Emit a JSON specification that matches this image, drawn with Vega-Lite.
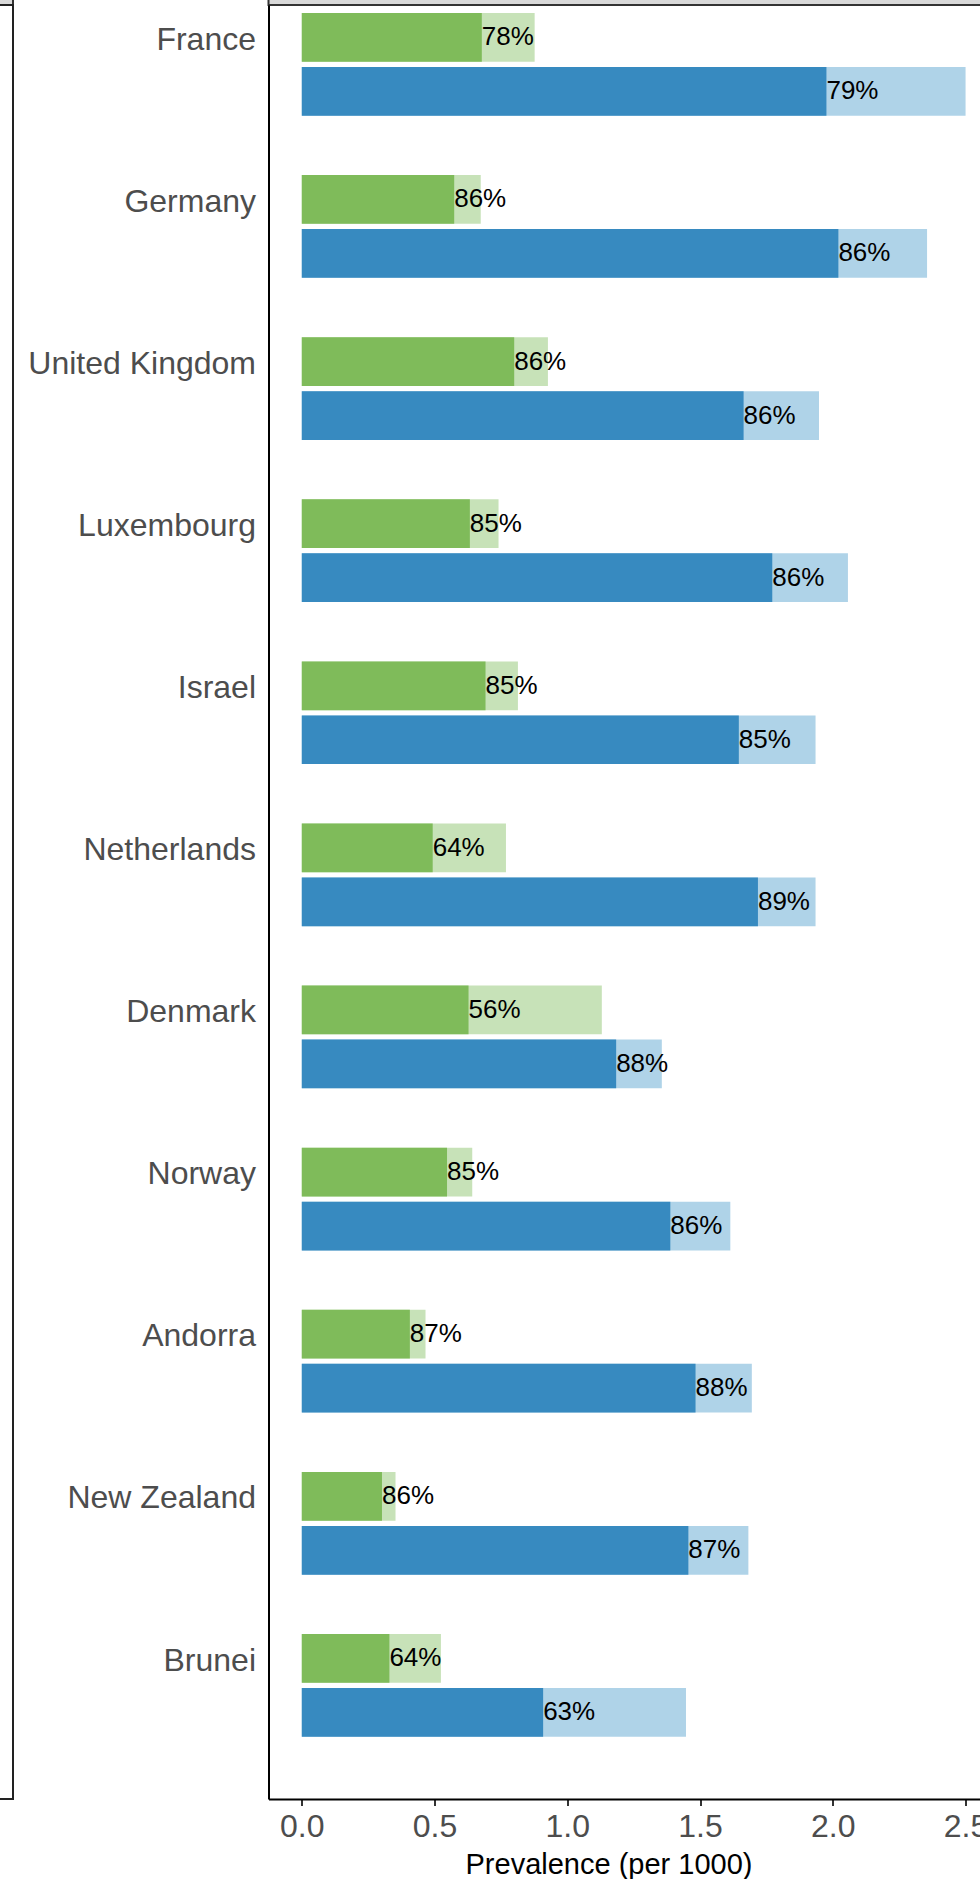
{
  "$schema": "https://vega.github.io/schema/vega-lite/v6.json",
  "padding": {"left": -188, "top": -26, "right": 0, "bottom": 0},
  "config": {
    "font": "Liberation Sans",
    "view": {"stroke": null},
    "axis": {"labelFont": "Liberation Sans", "titleFont": "Liberation Sans"}
  },
  "datasets": {
    "prev": [
      {"country": "France", "group": "A", "treated": 0.678, "total": 0.877, "pct": "78%"},
      {"country": "France", "group": "B", "treated": 1.976, "total": 2.5, "pct": "79%"},
      {"country": "Germany", "group": "A", "treated": 0.574, "total": 0.674, "pct": "86%"},
      {"country": "Germany", "group": "B", "treated": 2.021, "total": 2.355, "pct": "86%"},
      {"country": "United Kingdom", "group": "A", "treated": 0.8, "total": 0.927, "pct": "86%"},
      {"country": "United Kingdom", "group": "B", "treated": 1.664, "total": 1.948, "pct": "86%"},
      {"country": "Luxembourg", "group": "A", "treated": 0.633, "total": 0.741, "pct": "85%"},
      {"country": "Luxembourg", "group": "B", "treated": 1.772, "total": 2.057, "pct": "86%"},
      {"country": "Israel", "group": "A", "treated": 0.692, "total": 0.814, "pct": "85%"},
      {"country": "Israel", "group": "B", "treated": 1.646, "total": 1.935, "pct": "85%"},
      {"country": "Netherlands", "group": "A", "treated": 0.493, "total": 0.769, "pct": "64%"},
      {"country": "Netherlands", "group": "B", "treated": 1.718, "total": 1.935, "pct": "89%"},
      {"country": "Denmark", "group": "A", "treated": 0.628, "total": 1.13, "pct": "56%"},
      {"country": "Denmark", "group": "B", "treated": 1.184, "total": 1.356, "pct": "88%"},
      {"country": "Norway", "group": "A", "treated": 0.547, "total": 0.642, "pct": "85%"},
      {"country": "Norway", "group": "B", "treated": 1.388, "total": 1.614, "pct": "86%"},
      {"country": "Andorra", "group": "A", "treated": 0.407, "total": 0.466, "pct": "87%"},
      {"country": "Andorra", "group": "B", "treated": 1.483, "total": 1.695, "pct": "88%"},
      {"country": "New Zealand", "group": "A", "treated": 0.302, "total": 0.353, "pct": "86%"},
      {"country": "New Zealand", "group": "B", "treated": 1.456, "total": 1.682, "pct": "87%"},
      {"country": "Brunei", "group": "A", "treated": 0.33, "total": 0.524, "pct": "64%"},
      {"country": "Brunei", "group": "B", "treated": 0.909, "total": 1.447, "pct": "63%"}
    ]
  },
  "spacing": 455.5,
  "bounds": "flush",
  "hconcat": [
    {
      "spacing": 0,
      "bounds": "flush",
      "vconcat": [
        {
          "width": 200, "height": 30,
          "data": {"values": []},
          "mark": "point",
          "view": {"fill": "#D9D9D9", "stroke": "#333333", "strokeWidth": 2}
        },
        {
          "width": 200, "height": 1794,
          "data": {"values": []},
          "mark": "point",
          "view": {"stroke": "#222222", "strokeWidth": 2}
        }
      ]
    },
    {
      "spacing": 0,
      "bounds": "flush",
      "vconcat": [
        {
          "width": 726, "height": 30,
          "data": {"values": []},
          "mark": "point",
          "view": {"fill": "#D9D9D9", "stroke": "#333333", "strokeWidth": 2}
        },
        {
          "width": 726, "height": 1794,
          "data": {"name": "prev"},
          "encoding": {
            "y": {
              "field": "country", "type": "nominal",
              "sort": ["France", "Germany", "United Kingdom", "Luxembourg", "Israel", "Netherlands", "Denmark", "Norway", "Andorra", "New Zealand", "Brunei"],
              "scale": {"paddingInner": 0, "paddingOuter": 0.0336, "align": 0, "round": false},
              "axis": {
                "title": null, "ticks": false, "tickSize": 0, "labelPadding": 13,
                "labelOffset": -46.5, "labelFontSize": 32, "labelColor": "#4D4D4D",
                "labelLimit": 0, "domainColor": "#000000", "domainWidth": 2
              }
            },
            "yOffset": {
              "field": "group", "type": "nominal",
              "scale": {"domain": ["A", "B"], "paddingInner": 0.098, "paddingOuter": 0.55, "align": 0.135, "round": false}
            }
          },
          "layer": [
            {
              "mark": {"type": "bar"},
              "encoding": {
                "x": {
                  "field": "total", "type": "quantitative",
                  "scale": {"domain": [-0.1254, 2.609], "nice": false, "zero": false},
                  "axis": {
                    "title": "Prevalence (per 1000)",
                    "values": [0, 0.5, 1, 1.5, 2, 2.5], "format": ".1f", "grid": false,
                    "tickSize": 6.5, "tickWidth": 2, "tickColor": "#333333",
                    "domainColor": "#000000", "domainWidth": 2,
                    "labelFontSize": 32, "labelColor": "#4D4D4D", "labelBaseline": "alphabetic",
                    "labelPadding": 31, "labelFlush": false, "labelOverlap": false,
                    "titleFontSize": 29, "titleFontWeight": "normal", "titleColor": "#000000",
                    "titleX": 340, "titleY": 74, "titleBaseline": "alphabetic", "titleAlign": "center"
                  }
                },
                "color": {
                  "field": "group", "type": "nominal", "legend": null,
                  "scale": {"domain": ["A", "B"], "range": ["#C7E2B8", "#AFD3E8"]}
                }
              }
            },
            {
              "mark": {"type": "bar"},
              "encoding": {
                "x": {"field": "treated", "type": "quantitative"},
                "color": {
                  "field": "group", "type": "nominal", "legend": null,
                  "scale": {"domain": ["A", "B"], "range": ["#7FBB5A", "#378AC0"]}
                }
              }
            },
            {
              "mark": {"type": "text", "align": "left", "baseline": "middle", "fontSize": 26, "color": "#000000"},
              "encoding": {
                "x": {"field": "treated", "type": "quantitative"},
                "text": {"field": "pct", "type": "nominal"}
              }
            }
          ],
          "resolve": {"scale": {"color": "independent"}}
        }
      ]
    }
  ]
}
